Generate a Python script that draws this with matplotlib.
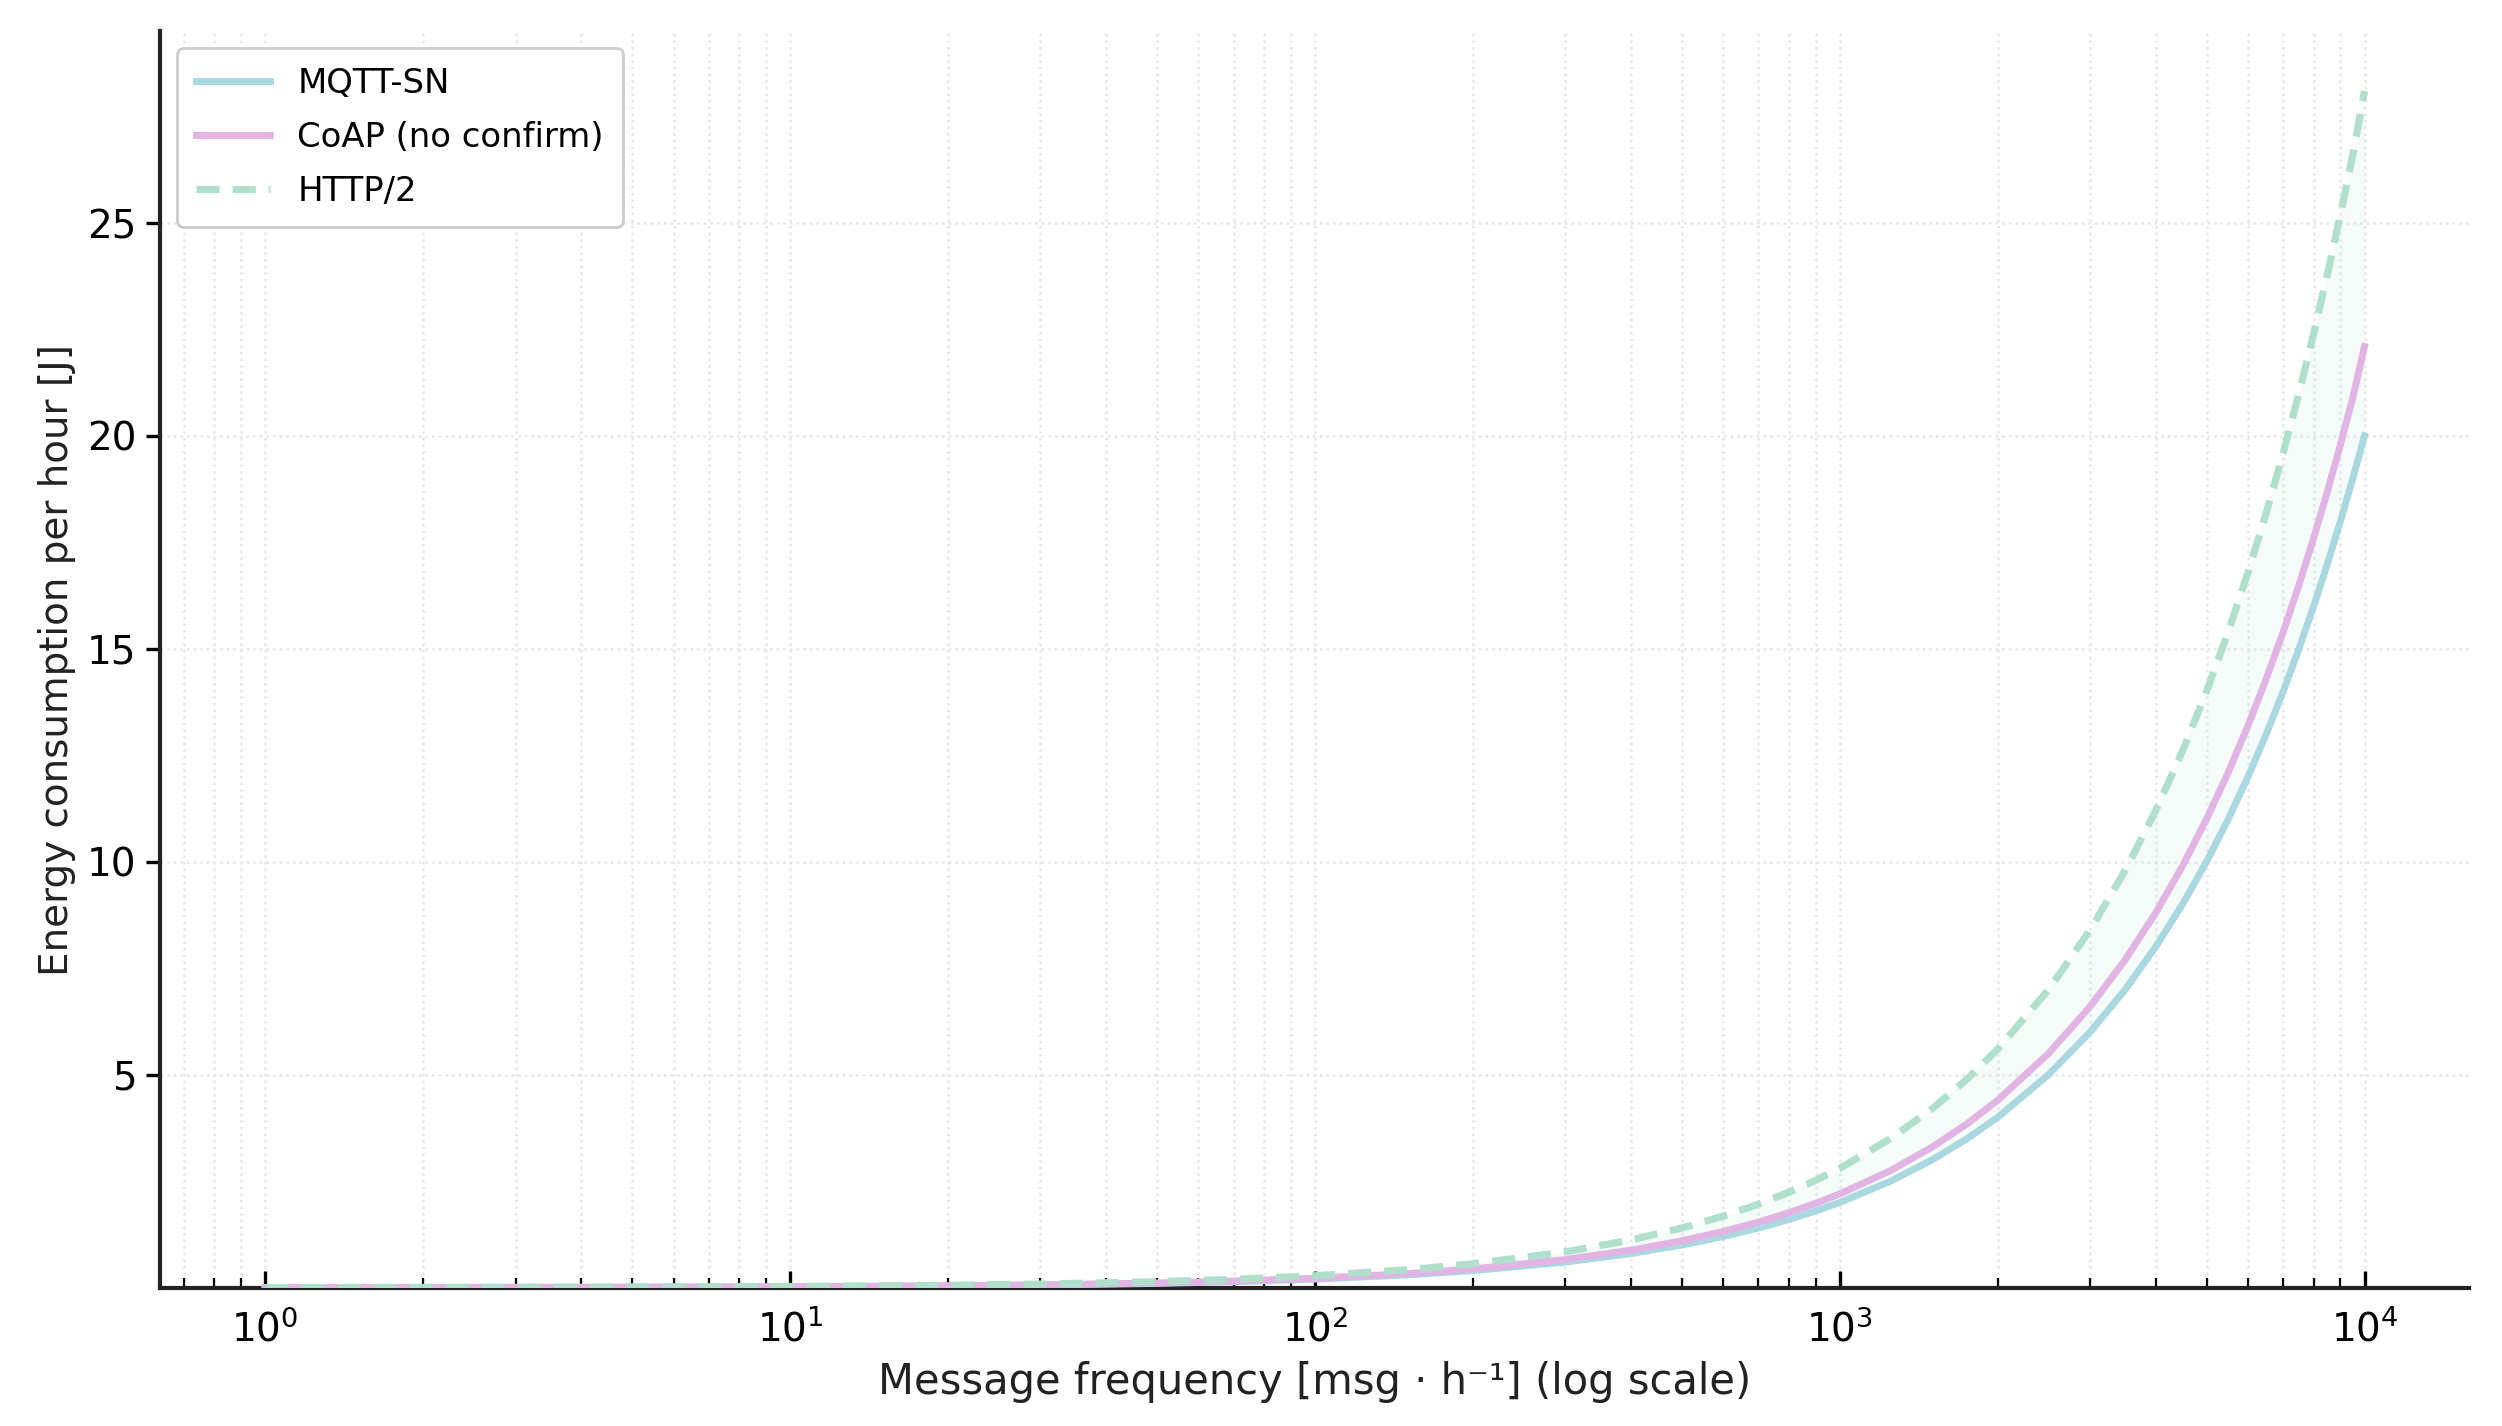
import matplotlib
matplotlib.use("Agg")
import matplotlib.pyplot as plt
from matplotlib.ticker import LogLocator, NullFormatter

freq = [1, 2, 5, 10, 20, 30, 50, 70, 100, 150, 200, 300, 400, 500, 600, 700, 800, 900,
        1000, 1250, 1500, 1750, 2000, 2500, 3000, 3500, 4000, 4500, 5000, 5500,
        6000, 6500, 7000, 7500, 8000, 8500, 9000, 9500, 10000]
mqtt_sn = [0.002, 0.004, 0.010, 0.020, 0.040, 0.060, 0.100, 0.140, 0.20, 0.30, 0.40, 0.60,
           0.80, 1.00, 1.20, 1.40, 1.60, 1.80, 2.00, 2.50, 3.00, 3.50, 4.00, 5.00, 6.00,
           7.00, 8.00, 9.00, 10.0, 11.0, 12.0, 13.0, 14.0, 15.0, 16.0, 17.0, 18.0, 19.0, 20.0]
coap = [0.002, 0.004, 0.011, 0.022, 0.044, 0.066, 0.110, 0.154, 0.22, 0.33, 0.44, 0.66,
        0.88, 1.10, 1.32, 1.54, 1.76, 1.98, 2.20, 2.75, 3.30, 3.85, 4.40, 5.50, 6.60,
        7.70, 8.80, 9.90, 11.0, 12.1, 13.2, 14.3, 15.4, 16.5, 17.6, 18.7, 19.8, 20.9, 22.1]
http2 = [0.003, 0.006, 0.014, 0.028, 0.056, 0.084, 0.140, 0.196, 0.28, 0.42, 0.56, 0.84,
         1.12, 1.40, 1.68, 1.96, 2.24, 2.52, 2.80, 3.50, 4.20, 4.90, 5.60, 7.00, 8.40,
         9.80, 11.2, 12.6, 14.0, 15.4, 16.8, 18.2, 19.6, 21.0, 22.4, 23.8, 25.2, 26.6, 28.1]
y_ticks = [5, 10, 15, 20, 25]

plt.rcParams['font.family'] = ['DejaVu Sans']

fig = plt.figure(figsize=(12.51, 7.13), dpi=200)
ax = fig.add_axes([0.064, 0.097, 0.923, 0.881])

c_mqtt = '#a9d8e0'
c_coap = '#e2b4e4'
c_http = '#b0e0cc'

ax.plot(freq, mqtt_sn, color=c_mqtt, lw=2.5, label='MQTT-SN', zorder=3)
ax.plot(freq, coap, color=c_coap, lw=2.5, label='CoAP (no confirm)', zorder=3)
ax.plot(freq, http2, color=c_http, lw=2.6, ls=(0, (3.2, 1.8)), label='HTTP/2', zorder=3)
ax.fill_between(freq, mqtt_sn, http2, color=c_http, alpha=0.12, lw=0, zorder=2)

ax.set_xscale('log')
ax.set_ylim(0, 29.5)
ax.set_yticks(y_ticks)
ax.xaxis.set_minor_locator(LogLocator(base=10, subs=range(2, 10), numticks=20))
ax.xaxis.set_minor_formatter(NullFormatter())

ax.grid(True, which='both', axis='x', color='#e6e6e6', ls=':', lw=0.9)
ax.grid(True, which='major', axis='y', color='#e6e6e6', ls=':', lw=0.9)

for s in ['top', 'right']:
    ax.spines[s].set_visible(False)
for s in ['left', 'bottom']:
    ax.spines[s].set_linewidth(1.5)
    ax.spines[s].set_color('#222222')

ax.tick_params(axis='x', which='major', direction='in', length=6, width=1.2, labelsize=14, pad=8)
ax.tick_params(axis='x', which='minor', direction='in', length=3.5, width=0.8)
ax.tick_params(axis='y', which='major', direction='out', length=5, width=1.2, labelsize=14)

ax.set_xlabel('Message frequency [msg \u00b7 h\u207b\u00b9] (log scale)', fontsize=15, color='#222222')
ax.set_ylabel('Energy consumption per hour [J]', fontsize=14, color='#222222')

leg = ax.legend(loc='upper left', fontsize=12.2, frameon=True, fancybox=True,
                edgecolor='#cccccc', framealpha=1.0, borderpad=0.55, labelspacing=0.62,
                handlelength=2.2)
leg.get_frame().set_linewidth(1.0)

fig.savefig('out.png', dpi=200)
